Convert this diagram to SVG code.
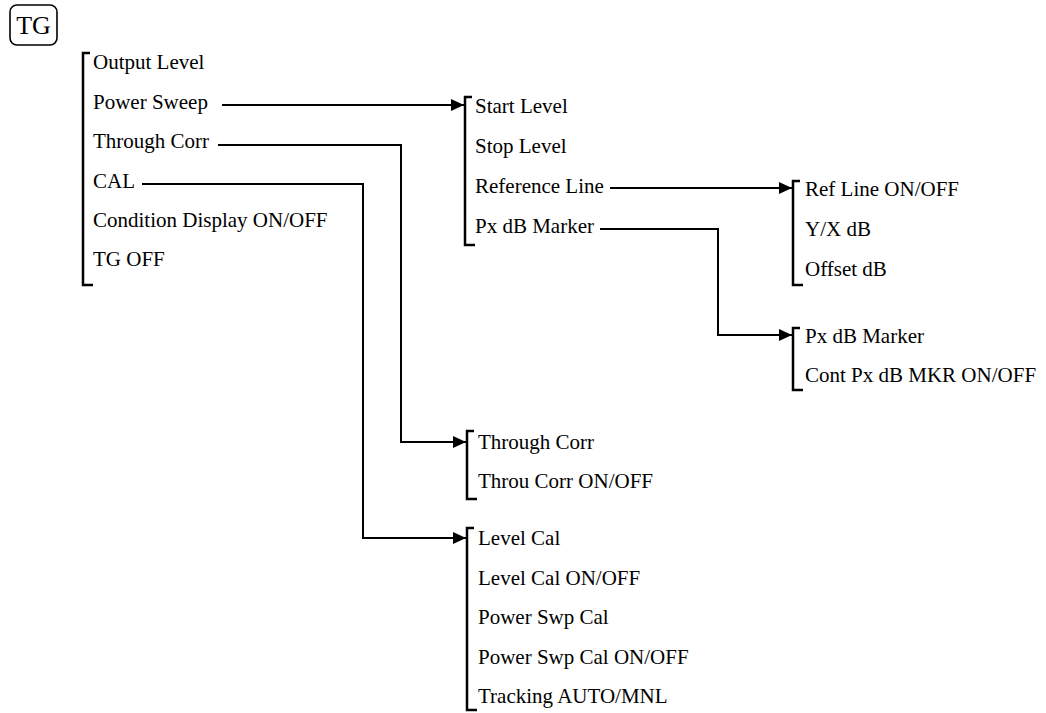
<svg xmlns="http://www.w3.org/2000/svg" width="1046" height="713" viewBox="0 0 1046 713" font-family="'Liberation Serif', 'Times New Roman', serif">
<defs>
<marker id="arr" viewBox="0 0 13 12" refX="13" refY="6" markerWidth="13" markerHeight="12" markerUnits="userSpaceOnUse" orient="auto">
<path d="M0,0 L13,6 L0,12 z" fill="#000"/>
</marker>
</defs>
<style>
text{font-family:'Liberation Serif','Times New Roman',serif;font-size:21px;fill:#000}
.br{fill:none;stroke:#000;stroke-width:2.5}
.cn{fill:none;stroke:#000;stroke-width:2;marker-end:url(#arr)}
.key{fill:none;stroke:#000;stroke-width:1.6}
</style>
<rect width="1046" height="713" fill="#fff"/>
<g id="tg-key">
<rect class="key" x="10" y="5" width="47" height="40" rx="7"/>
<text x="33.5" y="34" text-anchor="middle" style="font-size:26px">TG</text>
</g>
<g id="menu-tg">
<path class="br" d="M90,53 H83 V285 H93"/>
<text x="93" y="69">Output Level</text>
<text x="93" y="108.5">Power Sweep</text>
<text x="93" y="148">Through Corr</text>
<text x="93" y="187.5">CAL</text>
<text x="93" y="227">Condition Display ON/OFF</text>
<text x="93" y="266">TG OFF</text>
</g>
<g id="menu-power-sweep">
<path class="br" d="M472,97 H465 V245 H475"/>
<text x="475" y="113">Start Level</text>
<text x="475" y="153">Stop Level</text>
<text x="475" y="193">Reference Line</text>
<text x="475" y="233">Px dB Marker</text>
</g>
<g id="menu-reference-line">
<path class="br" d="M800,181 H793 V285 H803"/>
<text x="805" y="196">Ref Line ON/OFF</text>
<text x="805" y="236">Y/X dB</text>
<text x="805" y="276">Offset dB</text>
</g>
<g id="menu-px-db-marker">
<path class="br" d="M800,328 H793 V390 H803"/>
<text x="805" y="343">Px dB Marker</text>
<text x="805" y="382">Cont Px dB MKR ON/OFF</text>
</g>
<g id="menu-through-corr">
<path class="br" d="M474,431 H467 V499 H477"/>
<text x="478" y="449">Through Corr</text>
<text x="478" y="488">Throu Corr ON/OFF</text>
</g>
<g id="menu-cal">
<path class="br" d="M474,528 H467 V710 H477"/>
<text x="478" y="545">Level Cal</text>
<text x="478" y="585">Level Cal ON/OFF</text>
<text x="478" y="624">Power Swp Cal</text>
<text x="478" y="664">Power Swp Cal ON/OFF</text>
<text x="478" y="703">Tracking AUTO/MNL</text>
</g>
<g id="connectors">
<path class="cn" d="M222,105 H464"/>
<path class="cn" d="M218,145 H401 V442 H466"/>
<path class="cn" d="M142,184 H363 V538 H466"/>
<path class="cn" d="M610,188 H792"/>
<path class="cn" d="M600,229 H718 V335 H792"/>
</g>
</svg>
